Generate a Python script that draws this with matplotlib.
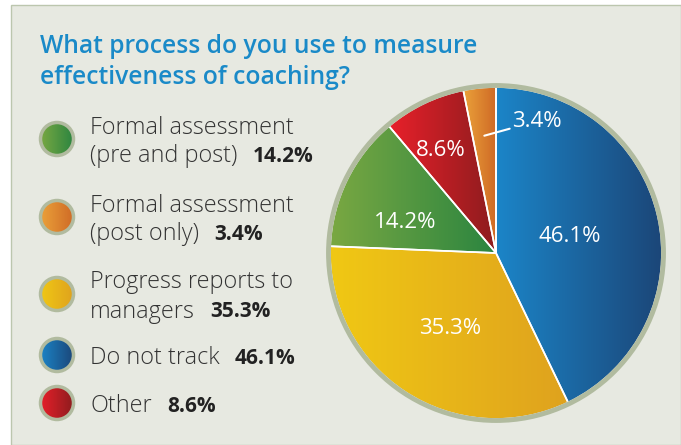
import matplotlib.pyplot as plt
import numpy as np
from matplotlib.patches import Circle, Rectangle
from matplotlib.colors import LinearSegmentedColormap

# canvas size in pixels (drawing is done in pixel units, y going up)
W, H = 681, 445

title = "What process do you use to measure\neffectiveness of coaching?"

# legend order
labels = [
    "Formal assessment\n(pre and post)",
    "Formal assessment\n(post only)",
    "Progress reports to\nmanagers",
    "Do not track",
    "Other",
]
values = [14.2, 3.4, 35.3, 46.1, 8.6]
pct_text = ["14.2%", "3.4%", "35.3%", "46.1%", "8.6%"]

# order of the slices in the pie, clockwise from 12 o'clock
pie_order = [3, 2, 0, 4, 1]

# gradient colours, left -> right
light = ["#7aa842", "#eba23a", "#f0c814", "#1b85c8", "#e8202a"]
dark = ["#2b8540", "#cf6a26", "#dfa21e", "#1c4678", "#8c1c1e"]

BG = "#e7e9e1"
RING = "#b1bb9f"
TITLE_BLUE = "#1a8ac8"
TEXT = "#333333"

plt.rcParams["font.family"] = ["Open Sans", "DejaVu Sans"]

# Open Sans sits a little high with va="center", nudge it down (pixels)
NUDGE = 3


def fill_gradient(ax, patch, x0, x1, y0, y1, c_left, c_right, z):
    """Paint a horizontal gradient clipped to a patch."""
    cmap = LinearSegmentedColormap.from_list("g", [c_left, c_right])
    grad = np.linspace(0, 1, 256).reshape(1, -1)
    im = ax.imshow(grad, cmap=cmap, extent=(x0, x1, y0, y1), origin="lower",
                   aspect="auto", interpolation="bilinear", zorder=z)
    im.set_clip_path(patch)


fig = plt.figure(figsize=(W / 100, H / 100), dpi=100, facecolor="white")
ax = fig.add_axes([0, 0, 1, 1])

# panel
ax.add_patch(Rectangle((11, 0), W - 11, H - 5, facecolor=BG, edgecolor="#bcc6ae",
                       linewidth=1, zorder=0))

for k, line in enumerate(title.split("\n")):
    ax.text(40, H - 53 - 31 * k, line, color=TITLE_BLUE, fontsize=17.7,
            fontweight="semibold", va="baseline", ha="left")

# ---- pie ----
cx, cy, r = 496, H - 253, 166
pie_vals = [values[i] for i in pie_order]
wedges, _ = ax.pie(pie_vals, startangle=90, counterclock=False, center=(cx, cy),
                   radius=r, wedgeprops=dict(facecolor="none", edgecolor="white",
                                             linewidth=1.2, zorder=3))
for w, i in zip(wedges, pie_order):
    ext = w.get_path().get_extents()
    fill_gradient(ax, w, ext.x0, ext.x1, ext.y0, ext.y1, light[i], dark[i], 2)

ax.add_patch(Circle((cx, cy), r + 1.5, facecolor="none", edgecolor=RING,
                    linewidth=3.5, zorder=4))

# slice labels: (distance as fraction of radius, angle offset from slice middle)
label_pos = {3: (0.46, 2), 2: (0.52, 1), 0: (0.58, 6), 4: (0.72, 2)}
for w, i in zip(wedges, pie_order):
    mid = (w.theta1 + w.theta2) / 2
    if i in label_pos:
        f, off = label_pos[i]
        a = np.deg2rad(mid + off)
        ax.text(cx + f * r * np.cos(a), cy + f * r * np.sin(a) - NUDGE, pct_text[i],
                color="white", fontsize=16, ha="center", va="center", zorder=5)
    else:
        a0 = np.deg2rad(mid)
        a1 = np.deg2rad(73)
        ax.annotate(pct_text[i],
                    xy=(cx + 0.71 * r * np.cos(a0), cy + 0.71 * r * np.sin(a0)),
                    xytext=(cx + 0.85 * r * np.cos(a1), cy + 0.85 * r * np.sin(a1) - NUDGE),
                    color="white", fontsize=16, ha="center", va="center", zorder=5,
                    arrowprops=dict(arrowstyle="-", color="white", lw=1.5,
                                    shrinkA=0, shrinkB=0))

# ---- legend ----
leg_y = [139, 217, 294, 355, 403]
line_gap = 29
for i, lab in enumerate(labels):
    y = H - leg_y[i]
    c = Circle((57, y), 16.5, facecolor="none", edgecolor=RING, linewidth=2.5, zorder=3)
    ax.add_patch(c)
    fill_gradient(ax, c, 40, 74, y - 17, y + 17, light[i], dark[i], 2)
    lines = lab.split("\n")
    top = y + line_gap * (len(lines) - 1) / 2 - NUDGE
    for k, line in enumerate(lines):
        t = ax.text(90, top - line_gap * k, line, color=TEXT, fontsize=16.8,
                    fontweight="light", ha="left", va="center", zorder=5)
    ax.annotate(pct_text[i], xy=(1, 0.5), xycoords=t, xytext=(11, 0),
                textcoords="offset points", color="#222222", fontsize=15,
                fontweight="bold", ha="left", va="center", zorder=5)

ax.set_xlim(0, W)
ax.set_ylim(0, H)
ax.set_aspect("auto")
ax.axis("off")

fig.savefig("out.png", dpi=100, facecolor="white")
